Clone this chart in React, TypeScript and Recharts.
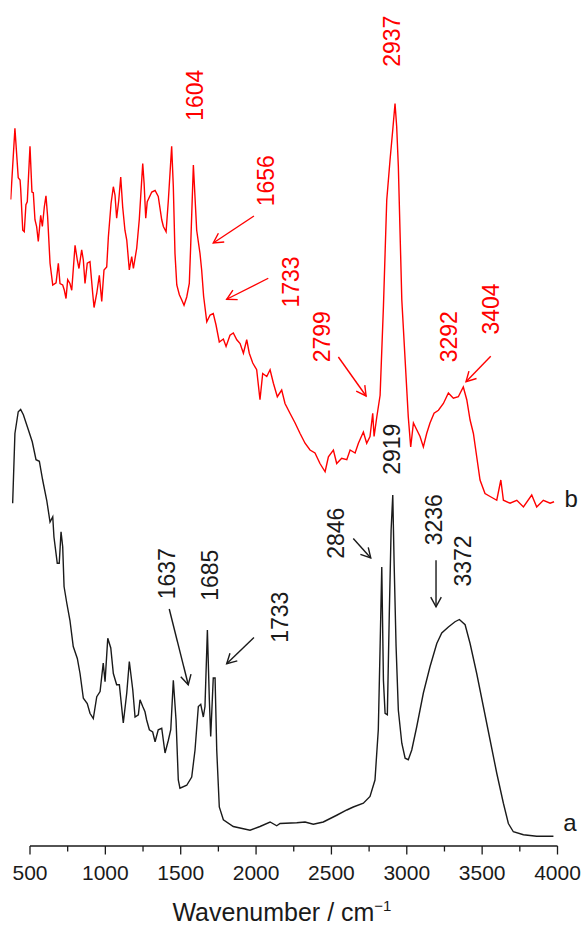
import React from "react";
import { LineChart, Line, XAxis, YAxis, ReferenceLine, ReferenceDot } from "recharts";

// ---- Data (wavenumber in cm-1, intensity in arbitrary units, curves offset) ----
const redWave = [
  372, 400, 422, 434, 438, 452, 462, 473, 482, 500,
  513, 522, 533, 544, 555, 571, 582, 595, 606, 617,
  633, 651, 673, 688, 699, 717, 728, 739, 750, 765,
  777, 799, 814, 825, 843, 854, 865, 880, 898, 916,
  925, 943, 960, 976, 991, 1009, 1020, 1038, 1053, 1064,
  1075, 1089, 1102, 1115, 1130, 1142, 1159, 1175, 1186, 1208,
  1225, 1248, 1257, 1268, 1278, 1308, 1330, 1351, 1374, 1385,
  1403, 1418, 1440, 1451, 1462, 1474, 1491, 1507, 1522, 1540,
  1557, 1566, 1584, 1606, 1628, 1639, 1652, 1673, 1695, 1716,
  1734, 1756, 1783, 1801, 1827, 1849, 1872, 1894, 1916, 1938,
  1955, 1978, 2004, 2026, 2044, 2071, 2093, 2115, 2141, 2170,
  2192, 2225, 2259, 2292, 2325, 2358, 2391, 2424, 2458, 2480,
  2513, 2535, 2568, 2602, 2624, 2657, 2679, 2712, 2734, 2756,
  2774, 2783, 2801, 2823, 2845, 2867, 2889, 2907, 2922, 2933,
  2944, 2967, 2989, 3010, 3026, 3044, 3066, 3088, 3110, 3132,
  3154, 3181, 3210, 3243, 3276, 3309, 3342, 3375, 3398, 3420,
  3442, 3464, 3486, 3519, 3553, 3597, 3624, 3641, 3685, 3730,
  3774, 3829, 3862, 3906, 3951, 3977,
];
const redValue = [
  86.2, 95.7, 89.1, 88.8, 87.7, 82.1, 81.9, 85.5, 85.9, 93.3,
  87.2, 87.1, 83.5, 82.6, 80.6, 84.1, 82.6, 85.2, 86.7, 83.9,
  77.7, 74.8, 75.1, 77.7, 75.0, 74.8, 74.1, 73.0, 75.5, 75.0,
  74.1, 80.1, 78.1, 77.0, 79.5, 78.1, 75.0, 77.7, 77.9, 73.7,
  71.8, 73.7, 76.1, 72.6, 76.8, 77.2, 81.2, 85.7, 87.9, 86.8,
  83.7, 86.1, 89.2, 85.2, 82.1, 80.8, 76.8, 78.6, 77.0, 79.7,
  83.5, 91.0, 88.4, 83.7, 85.9, 87.2, 87.4, 86.6, 83.5, 82.6,
  81.9, 86.1, 93.3, 87.9, 79.0, 74.8, 73.5, 72.8, 72.1, 73.2,
  75.0, 79.9, 90.8, 82.1, 79.0, 76.8, 73.3, 69.9, 70.8, 71.0,
  69.5, 67.2, 67.6, 66.6, 68.1, 68.4, 67.5, 67.0, 65.7, 67.5,
  65.7, 64.4, 63.5, 59.5, 63.0, 62.6, 63.5, 61.7, 59.9, 60.8,
  59.0, 57.7, 56.4, 55.0, 53.7, 52.8, 52.4, 51.0, 49.9, 51.9,
  52.8, 51.0, 51.7, 51.5, 52.8, 52.4, 53.7, 55.2, 53.7, 54.6,
  57.7, 54.6, 57.2, 60.1, 71.9, 86.1, 91.5, 95.5, 99.0, 95.9,
  90.6, 72.8, 64.8, 57.2, 53.2, 56.4, 55.5, 54.6, 53.2, 55.0,
  56.4, 57.7, 58.1, 59.0, 60.4, 59.7, 59.9, 61.2, 59.5, 56.8,
  55.0, 51.9, 48.8, 47.0, 46.6, 46.1, 48.8, 46.1, 45.7, 46.1,
  45.2, 46.8, 45.2, 46.1, 45.7, 45.9,
];

const blackWave = [
  385, 400, 422, 438, 456, 489, 515, 540, 562, 584,
  611, 633, 651, 659, 681, 694, 706, 717, 726, 744,
  765, 787, 814, 832, 854, 880, 898, 920, 943, 965,
  986, 998, 1016, 1036, 1053, 1075, 1093, 1119, 1142, 1159,
  1182, 1197, 1219, 1230, 1248, 1263, 1274, 1292, 1314, 1330,
  1351, 1374, 1396, 1418, 1434, 1451, 1469, 1484, 1495, 1540,
  1573, 1595, 1617, 1633, 1650, 1661, 1677, 1690, 1699, 1716,
  1728, 1739, 1756, 1783, 1849, 1960, 2026, 2093, 2137, 2159,
  2270, 2325, 2380, 2446, 2535, 2602, 2645, 2712, 2756, 2789,
  2811, 2823, 2834, 2845, 2856, 2871, 2884, 2896, 2907, 2916,
  2929, 2944, 2967, 2989, 3010, 3033, 3066, 3110, 3154, 3199,
  3232, 3276, 3320, 3349, 3387, 3420, 3464, 3508, 3553, 3597,
  3641, 3674, 3707, 3774, 3862, 3973,
];
const blackValue = [
  45.7, 55.0, 57.9, 58.2, 57.5, 55.5, 53.9, 51.5, 51.3, 48.8,
  46.1, 43.2, 43.9, 41.2, 37.7, 37.7, 41.9, 39.9, 34.6, 32.4,
  30.1, 26.6, 25.0, 23.0, 19.7, 19.0, 17.7, 17.0, 19.9, 20.6,
  24.4, 21.9, 27.7, 26.4, 23.0, 21.5, 21.5, 16.4, 20.4, 24.6,
  20.8, 17.2, 17.5, 19.5, 18.6, 17.9, 16.8, 15.5, 15.2, 13.9,
  15.5, 15.7, 12.4, 14.1, 15.5, 22.1, 16.8, 8.8, 7.7, 8.1,
  9.2, 12.8, 18.6, 18.9, 17.2, 18.6, 28.8, 19.5, 14.6, 22.4,
  22.4, 12.8, 5.2, 3.5, 2.6, 2.1, 2.6, 3.2, 2.7, 3.0,
  3.1, 3.2, 2.9, 3.2, 4.1, 4.8, 5.2, 5.7, 6.6, 8.8,
  15.5, 26.6, 37.2, 22.1, 17.7, 17.5, 31.0, 42.1, 46.8, 37.7,
  26.6, 18.1, 13.7, 11.7, 11.5, 12.8, 15.9, 20.4, 23.9, 27.0,
  28.4, 29.2, 29.9, 30.2, 29.5, 27.0, 23.0, 18.6, 14.1, 9.7,
  5.7, 3.0, 1.9, 1.5, 1.3, 1.3,
];

const xTicks = [500, 750, 1000, 1250, 1500, 1750, 2000, 2250, 2500, 2750, 3000, 3250, 3500, 3750, 4000];

// Peak annotations: label text, anchor (wavenumber, intensity) of label centre
const redLabels = [
  { text: "1604", w: 1595, v: 100.1 },
  { text: "1656", w: 2066, v: 88.7 },
  { text: "1733", w: 2232, v: 75.2 },
  { text: "2799", w: 2438, v: 67.9 },
  { text: "2937", w: 2902, v: 107.3 },
  { text: "3292", w: 3281, v: 67.9 },
  { text: "3404", w: 3559, v: 71.6 },
];
const blackLabels = [
  { text: "1637", w: 1409, v: 36.3 },
  { text: "1685", w: 1694, v: 36.1 },
  { text: "1733", w: 2159, v: 30.5 },
  { text: "2846", w: 2531, v: 41.7 },
  { text: "2919", w: 2902, v: 52.9 },
  { text: "3236", w: 3181, v: 43.5 },
  { text: "3372", w: 3373, v: 38.0 },
];
// Arrows: tail -> tip
const redArrows = [
  { w1: 1986, v1: 84.0, w2: 1716, v2: 80.4 },
  { w1: 2081, v1: 75.7, w2: 1805, v2: 72.9 },
  { w1: 2546, v1: 65.2, w2: 2730, v2: 60.0 },
  { w1: 3557, v1: 65.3, w2: 3393, v2: 61.9 },
];
const blackArrows = [
  { w1: 1424, v1: 31.6, w2: 1550, v2: 21.5 },
  { w1: 1986, v1: 27.8, w2: 1805, v2: 24.3 },
  { w1: 2645, v1: 41.0, w2: 2761, v2: 38.4 },
  { w1: 3194, v1: 38.1, w2: 3194, v2: 31.9 },
];

const RED = "#ff0000";
const BLACK = "#1a1a1a";
const FONT = "'Liberation Sans', Arial, sans-serif";

const redData = redWave.map((w, i) => ({ w, v: redValue[i] }));
const blackData = blackWave.map((w, i) => ({ w, v: blackValue[i] }));

const renderTick = (props: any) => {
  const { x, y, payload } = props;
  const major = payload.value % 500 === 0;
  return (
    <g>
      <line x1={x} x2={x} y1={y} y2={y + (major ? 8.5 : 5.5)} stroke={BLACK} strokeWidth={1.3} />
      {major && (
        <text x={x} y={y + 34} textAnchor="middle" fontSize={21} fill={BLACK} fontFamily={FONT}>
          {payload.value}
        </text>
      )}
    </g>
  );
};

const makeLabelShape = (text: string, color: string) => (props: any) => {
  const { cx, cy } = props;
  return (
    <text
      x={cx}
      y={cy}
      transform={`rotate(-90 ${cx} ${cy})`}
      textAnchor="middle"
      dominantBaseline="central"
      fontSize={23}
      fill={color}
      fontFamily={FONT}
    >
      {text}
    </text>
  );
};

const makeArrowShape = (color: string) => (props: any) => {
  const { x1, y1, x2, y2 } = props;
  if ([x1, y1, x2, y2].some((n) => typeof n !== "number" || isNaN(n))) return <g />;
  const ang = Math.atan2(y2 - y1, x2 - x1);
  const len = 11;
  const spread = 0.5;
  const ax = x2 - len * Math.cos(ang - spread);
  const ay = y2 - len * Math.sin(ang - spread);
  const bx = x2 - len * Math.cos(ang + spread);
  const by = y2 - len * Math.sin(ang + spread);
  return (
    <g>
      <line x1={x1} y1={y1} x2={x2} y2={y2} stroke={color} strokeWidth={1.4} />
      <polyline points={`${ax},${ay} ${x2},${y2} ${bx},${by}`} fill="none" stroke={color} strokeWidth={1.4} />
    </g>
  );
};

const textShape = (text: string) => (props: any) => {
  const { cx, cy } = props;
  return (
    <text x={cx} y={cy} textAnchor="middle" dominantBaseline="central" fontSize={24} fill={BLACK} fontFamily={FONT}>
      {text}
    </text>
  );
};

const renderTitle = (props: any) => {
  const vb = props.viewBox || { x: 0, y: 0, width: 0, height: 0 };
  const cx = vb.x + vb.width / 2;
  return (
    <text x={cx - 2} y={vb.y + 75} textAnchor="middle" fontSize={25} fill={BLACK} fontFamily={FONT}>
      Wavenumber / cm
      <tspan dy={-10} fontSize={15}>−1</tspan>
    </text>
  );
};

export default function App() {
  return (
    <div style={{ position: "absolute", left: 0, top: 0, width: 584, height: 927, background: "#fff" }}>
      <LineChart width={584} height={927} margin={{ top: 21, right: 26.5, left: 10.4, bottom: 0 }}>
        <XAxis
          dataKey="w"
          type="number"
          domain={[370, 4000]}
          ticks={xTicks}
          interval={0}
          axisLine={false}
          tickLine={false}
          tickSize={0}
          tickMargin={0}
          height={81}
          tick={renderTick}
          label={{ content: renderTitle }}
          allowDataOverflow
        />
        <YAxis type="number" domain={[0, 110]} hide allowDataOverflow />
        <ReferenceLine
          segment={[{ x: 500, y: 0 }, { x: 4000, y: 0 }]}
          stroke={BLACK}
          strokeWidth={1.3}
          ifOverflow="visible"
        />
        <Line data={blackData} dataKey="v" type="linear" stroke={BLACK} strokeWidth={1.4} dot={false} isAnimationActive={false} />
        <Line data={redData} dataKey="v" type="linear" stroke={RED} strokeWidth={1.4} dot={false} isAnimationActive={false} />
        {redArrows.map((a, i) => (
          <ReferenceLine
            key={`ra${i}`}
            segment={[{ x: a.w1, y: a.v1 }, { x: a.w2, y: a.v2 }]}
            ifOverflow="visible"
            shape={makeArrowShape(RED)}
          />
        ))}
        {blackArrows.map((a, i) => (
          <ReferenceLine
            key={`ba${i}`}
            segment={[{ x: a.w1, y: a.v1 }, { x: a.w2, y: a.v2 }]}
            ifOverflow="visible"
            shape={makeArrowShape(BLACK)}
          />
        ))}
        {redLabels.map((l, i) => (
          <ReferenceDot key={`rl${i}`} x={l.w} y={l.v} ifOverflow="visible" shape={makeLabelShape(l.text, RED)} />
        ))}
        {blackLabels.map((l, i) => (
          <ReferenceDot key={`bl${i}`} x={l.w} y={l.v} ifOverflow="visible" shape={makeLabelShape(l.text, BLACK)} />
        ))}
        <ReferenceDot x={4090} y={46.4} ifOverflow="visible" shape={textShape("b")} />
        <ReferenceDot x={4083} y={3.2} ifOverflow="visible" shape={textShape("a")} />
      </LineChart>
    </div>
  );
}
